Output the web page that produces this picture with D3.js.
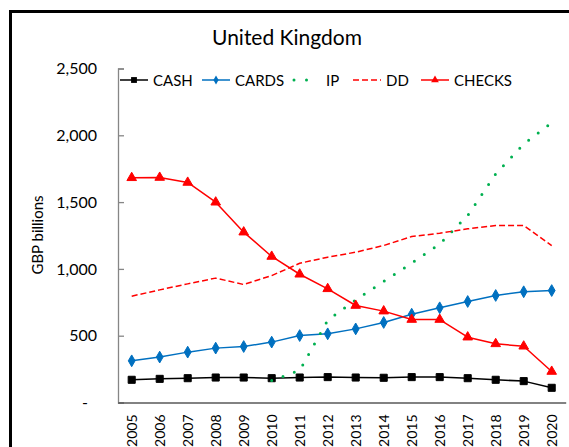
<!DOCTYPE html>
<html>
<head>
<meta charset="utf-8">
<script src="https://cdn.jsdelivr.net/npm/d3@7"></script>
<style>
  body { margin: 0; background: #fff; }
  svg { display: block; }
  text { font-family: Lato, "Noto Sans", sans-serif; fill: #000; }
</style>
</head>
<body>
<div id="chart"></div>
<script>
// values (GBP billions)
var years  = ["2005","2006","2007","2008","2009","2010","2011","2012","2013","2014","2015","2016","2017","2018","2019","2020"];
var cash   = [170,177,182,187,187,182,187,190,187,185,190,190,182,170,160,110];
var cards  = [312,340,377,407,419,452,501,514,551,599,661,709,756,801,829,838];
var ip     = [null,null,null,null,null,165,240,615,768,906,1043,1186,1400,1710,1935,2095];
var dd     = [796,843,888,931,883,950,1042,1088,1125,1175,1242,1267,1300,1325,1325,1175];
var checks = [1682,1684,1647,1499,1275,1093,960,851,726,684,621,621,489,439,421,232];
var yTicks = [0,500,1000,1500,2000,2500];

var width = 569, height = 447;
var svg = d3.select("#chart").append("svg").attr("width", width).attr("height", height);

// chart frame, runs off the right and bottom like the picture
svg.append("rect").attr("x", 10.5).attr("y", 11.5).attr("width", 600).attr("height", 500)
  .attr("fill", "none").attr("stroke", "#000").attr("stroke-width", 3);

var x = d3.scaleBand().domain(years).range([117.7, 565.7]);
var y = d3.scaleLinear().domain([0, 2500]).range([402.5, 68.5]);
function cx(d, i) { return x(years[i]) + x.bandwidth() / 2; }

// y axis
var yAxis = svg.append("g").attr("transform", "translate(118,0)")
  .call(d3.axisLeft(y).tickValues(yTicks).tickSize(-6).tickPadding(21)
    .tickFormat(function(d) { return d === 0 ? "-" : d3.format(",")(d); }));
yAxis.select(".domain").attr("stroke", "#868686").attr("stroke-width", 1.3);
yAxis.selectAll(".tick line").attr("stroke", "#868686").attr("stroke-width", 1.3);
yAxis.selectAll(".tick text").attr("font-family", "Lato").attr("font-size", 16).attr("fill", "#000")
  .attr("dx", function(d) { return d === 0 ? -9 : 0; });

// x axis
var xAxis = svg.append("g").attr("transform", "translate(0,402.5)")
  .call(d3.axisBottom(x).tickSize(0).tickPadding(0));
xAxis.select(".domain").attr("stroke", "#595959").attr("stroke-width", 1.3);
xAxis.selectAll(".tick text")
  .attr("font-family", "'Liberation Sans', Arial, sans-serif").attr("font-size", 14).attr("fill", "#000")
  .attr("transform", "rotate(-90)").attr("text-anchor", "end")
  .attr("x", -12).attr("y", 0).attr("dy", "0.35em");

// y axis title
svg.append("text").attr("transform", "translate(43,235) rotate(-90)")
  .attr("text-anchor", "middle").attr("font-size", 15).text("GBP billions");

// title
svg.append("text").attr("x", 287).attr("y", 44.5).attr("text-anchor", "middle")
  .attr("font-size", 21).text("United Kingdom");

var series = [
  { name: "CASH",   values: cash,   color: "#000000", dash: null,  width: 1.5, symbol: d3.symbolSquare,   size: 50, lsize: 34 },
  { name: "CARDS",  values: cards,  color: "#0070C0", dash: null,  width: 1.5, symbol: d3.symbolDiamond,  size: 40, lsize: 24 },
  { name: "IP",     values: ip,     color: "#00B050", dash: "0,12", width: 3, symbol: null, cap: "round" },
  { name: "DD",     values: dd,     color: "#FF0000", dash: "6,3", width: 1.5, symbol: null },
  { name: "CHECKS", values: checks, color: "#FF0000", dash: null,  width: 1.5, symbol: d3.symbolTriangle, size: 40, lsize: 26 }
];

var line = d3.line()
  .defined(function(d) { return d != null; })
  .x(cx)
  .y(function(d) { return y(d); });

series.forEach(function(s) {
  var g = svg.append("g");
  g.append("path").datum(s.values)
    .attr("fill", "none").attr("stroke", s.color).attr("stroke-width", s.width)
    .attr("stroke-dasharray", s.dash).attr("stroke-linecap", s.cap || "butt")
    .attr("stroke-linejoin", "round")
    .attr("d", line);
  if (s.symbol) {
    g.selectAll(".m").data(s.values).enter().append("path")
      .attr("d", d3.symbol().type(s.symbol).size(s.size))
      .attr("fill", s.color).attr("stroke", s.color).attr("stroke-width", 1)
      .attr("transform", function(d, i) { return "translate(" + cx(d, i) + "," + y(d) + ")"; });
  }
});

// legend
var legendX = [120, 202, 293, 353, 421];
var legend = svg.append("g").attr("transform", "translate(0,80)");
series.forEach(function(s, i) {
  var lg = legend.append("g").attr("transform", "translate(" + legendX[i] + ",0)");
  if (s.name === "IP") {
    lg.append("line").attr("x1", 1).attr("x2", 26).attr("y1", 0).attr("y2", 0)
      .attr("stroke", s.color).attr("stroke-width", 3).attr("stroke-linecap", "round")
      .attr("stroke-dasharray", "0,12.5");
  } else {
    lg.append("line").attr("x1", 0).attr("x2", 28).attr("y1", 0).attr("y2", 0)
      .attr("stroke", s.color).attr("stroke-width", 1.5).attr("stroke-dasharray", s.dash);
  }
  if (s.symbol) {
    lg.append("path").attr("d", d3.symbol().type(s.symbol).size(s.lsize))
      .attr("transform", "translate(14,0)").attr("fill", s.color);
  }
  lg.append("text").attr("x", 33).attr("y", 5.5).attr("font-size", 15).text(s.name);
});
</script>
</body>
</html>
